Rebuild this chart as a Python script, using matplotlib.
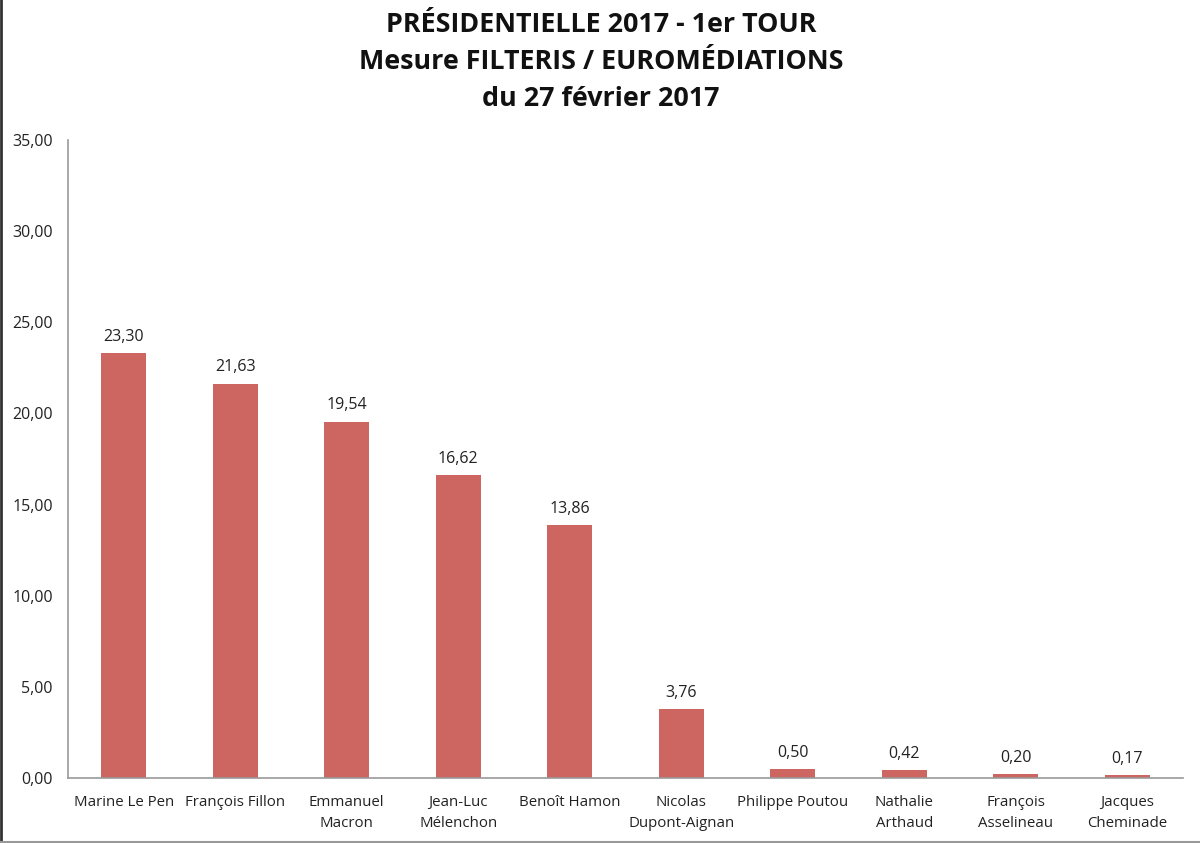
import matplotlib
matplotlib.use("Agg")
import matplotlib.pyplot as plt

candidates = ["Marine Le Pen", "François Fillon", "Emmanuel\nMacron", "Jean-Luc\nMélenchon",
              "Benoît Hamon", "Nicolas\nDupont-Aignan", "Philippe Poutou", "Nathalie\nArthaud",
              "François\nAsselineau", "Jacques\nCheminade"]
values = [23.30, 21.63, 19.54, 16.62, 13.86, 3.76, 0.50, 0.42, 0.20, 0.17]
yticks = [0, 5, 10, 15, 20, 25, 30, 35]
title_lines = ["PRÉSIDENTIELLE 2017 - 1er TOUR", "Mesure FILTERIS / EUROMÉDIATIONS", "du 27 février 2017"]

plt.rcParams['font.family'] = ['Open Sans', 'DejaVu Sans']

W, H = 1200, 843
fig = plt.figure(figsize=(W/100, H/100), dpi=100)
fig.patch.set_facecolor("white")

# frame lines of the original picture
fig.add_artist(plt.Line2D([1/W, 1/W], [0, 1], color="#333333", lw=2, transform=fig.transFigure))
fig.add_artist(plt.Line2D([0, 1], [1.5/H, 1.5/H], color="#999999", lw=1.5, transform=fig.transFigure))

left, right, top, bottom = 68, 1183, 140, 778
ax = fig.add_axes([left/W, 1-bottom/H, (right-left)/W, (bottom-top)/H])
x = list(range(len(values)))
ax.bar(x, values, width=0.4, color="#CD6660", zorder=2)
ax.set_xlim(-0.5, len(values)-0.5)
ax.set_ylim(0, 35)
ax.set_yticks(yticks)
ax.set_yticklabels([f"{v:.2f}".replace(".", ",") for v in yticks], fontsize=11.5, color="#222222")
ax.set_xticks(x)
ax.set_xticklabels(candidates, fontsize=10.8, color="#222222", linespacing=1.55)
ax.tick_params(axis="both", length=0)
ax.tick_params(axis="y", pad=11)
ax.tick_params(axis="x", pad=12)
for s in ["top", "right"]:
    ax.spines[s].set_visible(False)
for s in ["left", "bottom"]:
    ax.spines[s].set_color("#999999")
    ax.spines[s].set_linewidth(1.2)

for xi, v in zip(x, values):
    ax.annotate(f"{v:.2f}".replace(".", ","), (xi, v), xytext=(0, 6), textcoords="offset points",
                ha="center", va="bottom", fontsize=11.5, color="#222222")

ys = [25, 62, 99]
for t, yy in zip(title_lines, ys):
    fig.text(601/W, 1-yy/H, t, ha="center", va="center", fontsize=19.4, fontweight="bold", color="#111111")

fig.savefig("out.png", dpi=100)
